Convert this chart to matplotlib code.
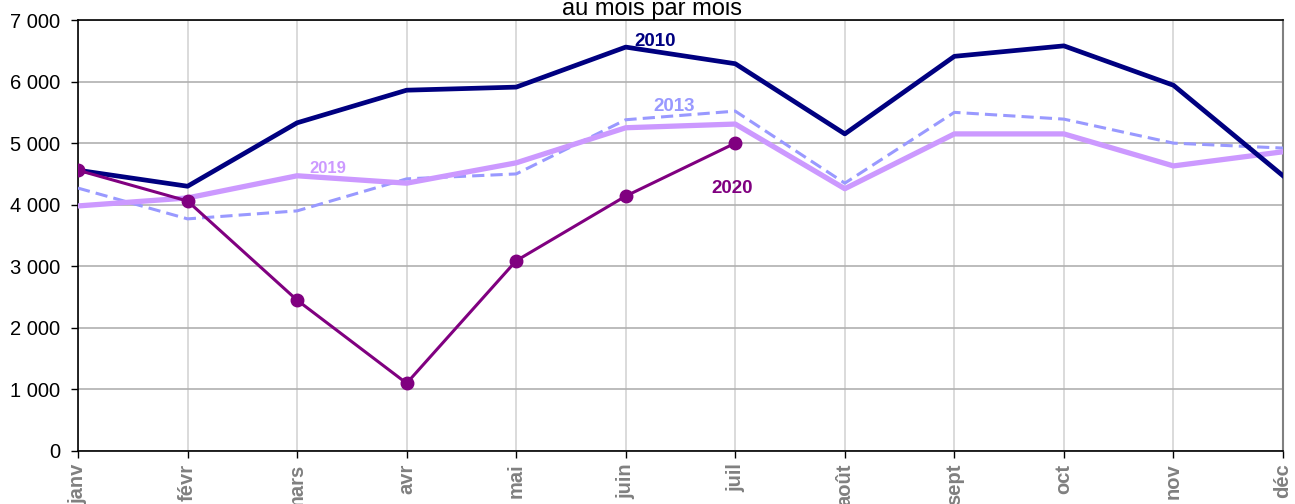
import matplotlib
matplotlib.use('Agg')
import matplotlib.pyplot as plt

months = ['janv', 'févr', 'mars', 'avr', 'mai', 'juin', 'juil',
          'août', 'sept', 'oct', 'nov', 'déc']

# monthly values
v2010 = [4560, 4300, 5330, 5860, 5910, 6560, 6290, 5150, 6410, 6580, 5940, 4470]
v2013 = [4270, 3770, 3900, 4420, 4500, 5380, 5520, 4350, 5500, 5390, 5000, 4920]
v2019 = [3980, 4110, 4470, 4350, 4680, 5250, 5310, 4260, 5150, 5150, 4630, 4860]
v2020 = [4560, 4060, 2450, 1100, 3090, 4140, 5000]

yticks = [0, 1000, 2000, 3000, 4000, 5000, 6000, 7000]
ytick_labels = ['0', '1 000', '2 000', '3 000', '4 000', '5 000', '6 000', '7 000']

plt.rcParams['font.family'] = ['Liberation Sans', 'DejaVu Sans']

fig = plt.figure(figsize=(12.95, 5.04), dpi=100)
ax = fig.add_axes([78 / 1295, 53 / 504, 1205 / 1295, 431 / 504])

x = list(range(len(months)))

ax.plot(x, v2010, color='#000080', linewidth=3.4, zorder=4)
ax.plot(x, v2013, color='#9999FF', linewidth=2.2, linestyle=(0, (4, 2)), zorder=3)
ax.plot(x, v2019, color='#CC99FF', linewidth=3.8, zorder=3)
ax.plot(x[:len(v2020)], v2020, color='#800080', linewidth=2.2, marker='o',
        markersize=9, zorder=5)

# series labels
ax.text(5.27, 6650, '2010', color='#000080', fontsize=13.5, fontweight='bold', ha='center', va='center')
ax.text(5.44, 5600, '2013', color='#9999FF', fontsize=13.5, fontweight='bold', ha='center', va='center')
ax.text(2.28, 4590, '2019', color='#CC99FF', fontsize=12, fontweight='bold', ha='center', va='center')
ax.text(5.97, 4260, '2020', color='#800080', fontsize=13.5, fontweight='bold', ha='center', va='center')

ax.set_xlim(0, 11)
ax.set_ylim(0, 7000)
ax.set_yticks(yticks)
ax.set_yticklabels(ytick_labels, fontsize=14.5)
ax.set_xticks(x)
ax.set_xticklabels(months, rotation=90, fontsize=14.5, fontweight='bold', color='#808080')

ax.grid(axis='y', color='#B0B0B0', linewidth=1.2)
ax.grid(axis='x', color='#D4D4D4', linewidth=1.2)
ax.set_axisbelow(True)

ax.tick_params(axis='both', direction='out', length=5, width=1, color='black')
ax.tick_params(axis='x', pad=4)
ax.tick_params(axis='y', pad=8)

for s in ['left', 'bottom', 'top']:
    ax.spines[s].set_color('black')
    ax.spines[s].set_linewidth(1.2)
ax.spines['right'].set_color('#808080')
ax.spines['right'].set_linewidth(1.5)

fig.text(652 / 1295, 1 - 15 / 504, 'au mois par mois', ha='center', va='baseline', fontsize=17)

fig.savefig('out.png', dpi=100)
